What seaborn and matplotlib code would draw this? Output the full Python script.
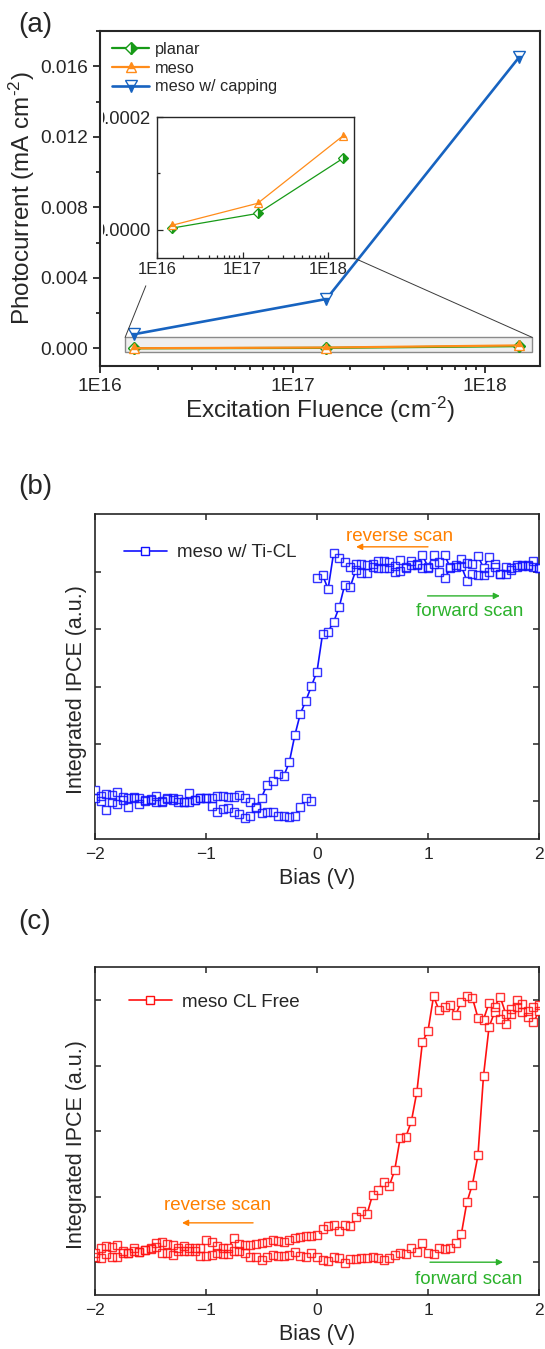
import numpy as np
import pandas as pd
import matplotlib
matplotlib.use("Agg")
import matplotlib.pyplot as plt
import seaborn as sns
from matplotlib.lines import Line2D
from matplotlib.patches import Rectangle
from matplotlib.transforms import Bbox
from matplotlib.ticker import (FixedLocator, FuncFormatter, NullFormatter,
                               LogLocator, MultipleLocator)

sns.set_style("ticks")
plt.rcParams["font.family"] = ["Liberation Sans", "DejaVu Sans"]
plt.rcParams["mathtext.fontset"] = "custom"
plt.rcParams["mathtext.rm"] = "Liberation Sans"
plt.rcParams["mathtext.it"] = "Liberation Sans:italic"
plt.rcParams["mathtext.bf"] = "Liberation Sans:bold"

# ---------------- (a) photocurrent vs excitation fluence ----------------
fluence = [1.5e16, 1.5e17, 1.5e18]
planar = [3e-6, 2.9e-5, 1.27e-4]
meso = [8e-6, 4.7e-5, 1.67e-4]
meso_capping = [0.0008, 0.0028, 0.0165]
fluence_ticks = [1e16, 1e17, 1e18]

# ---------------- (b), (c) bias sweeps ----------------
bias = np.round(np.linspace(-2.0, 2.0, 81), 2)

ti_forward = [0.048, 0.023, 0.029, 0.026, 0.041, 0.019, 0.015, 0.015, 0.012, 0.004,
              0.009, 0.023, 0.000, 0.015, 0.012, 0.009, -0.003, 0.034, 0.004, 0.012,
              0.012, 0.015, 0.023, 0.022, 0.019, 0.019, 0.026, 0.012, -0.006, -0.025,
              0.015, 0.071, 0.087, 0.118, 0.109, 0.169, 0.287, 0.382, 0.439, 0.503,
              0.566, 0.730, 0.741, 0.783, 0.848, 0.946, 0.937, 1.010, 0.996, 0.996,
              1.022, 1.017, 1.017, 1.017, 1.003, 1.007, 1.017, 1.032, 1.032, 1.017,
              1.017, 1.036, 1.003, 0.974, 1.017, 1.025, 1.028, 0.964, 0.993, 0.988,
              0.988, 1.003, 1.025, 0.993, 0.993, 1.010, 1.022, 1.028, 1.032, 1.022,
              1.017]
ti_reverse = [0.015, 0.000, -0.039, -0.006, -0.015, 0.004, -0.025, 0.019, -0.015, 0.000,
              0.004, -0.003, -0.006, 0.009, 0.004, -0.003, -0.006, -0.003, 0.004, 0.015,
              0.015, -0.020, -0.047, -0.035, -0.029, -0.047, -0.058, -0.073, -0.064, -0.032,
              -0.054, -0.050, -0.050, -0.064, -0.064, -0.069, -0.064, -0.025, 0.015, 0.000,
              0.974, 0.988, 0.927, 1.086, 1.061, 1.045, 1.022, 1.036, 1.036, 1.032,
              1.036, 1.051, 1.051, 1.047, 1.028, 1.054, 1.022, 1.051, 1.036, 1.076,
              1.022, 1.074, 1.047, 1.074, 1.022, 1.032, 1.058, 1.042, 1.036, 1.071,
              1.020, 1.066, 1.036, 0.993, 1.025, 1.017, 1.032, 1.032, 1.028, 1.051,
              1.017]
# the reverse trace of the Ti-CL device has a gap just below 0 V
ti_reverse_gap = -0.025

free_forward = [0.020, 0.014, 0.031, 0.018, 0.018, 0.033, 0.036, 0.043, 0.039, 0.046,
                0.048, 0.059, 0.036, 0.033, 0.027, 0.043, 0.043, 0.043, 0.043, 0.023,
                0.023, 0.027, 0.033, 0.031, 0.031, 0.043, 0.043, 0.033, 0.018, 0.020,
                0.008, 0.020, 0.027, 0.023, 0.023, 0.027, 0.039, 0.023, 0.020, 0.036,
                0.020, 0.008, 0.004, 0.020, 0.014, -0.005, 0.011, 0.011, 0.014, 0.017,
                0.020, 0.017, 0.008, 0.017, 0.027, 0.033, 0.029, 0.052, 0.039, 0.071,
                0.033, 0.029, 0.052, 0.050, 0.055, 0.071, 0.106, 0.228, 0.296, 0.407,
                0.711, 0.898, 0.955, 0.930, 0.908, 0.949, 0.975, 0.955, 0.936, 0.915,
                0.959]
free_reverse = [0.036, 0.052, 0.061, 0.056, 0.065, 0.043, 0.036, 0.052, 0.039, 0.046,
                0.052, 0.074, 0.078, 0.069, 0.065, 0.052, 0.061, 0.052, 0.052, 0.052,
                0.084, 0.078, 0.061, 0.052, 0.052, 0.090, 0.069, 0.065, 0.065, 0.069,
                0.071, 0.078, 0.084, 0.081, 0.078, 0.084, 0.090, 0.097, 0.099, 0.099,
                0.103, 0.126, 0.139, 0.141, 0.120, 0.141, 0.139, 0.173, 0.195, 0.182,
                0.256, 0.277, 0.307, 0.289, 0.351, 0.475, 0.478, 0.537, 0.651, 0.841,
                0.883, 1.015, 0.962, 0.975, 0.981, 0.945, 0.994, 1.017, 1.009, 0.933,
                0.926, 0.990, 0.975, 1.013, 0.949, 0.968, 1.000, 0.987, 0.958, 0.975,
                0.981]
ipce_ticks = [0.0, 0.25, 0.5, 0.75, 1.0]

GREEN = "#179a17"
ORANGE = "#ff8c1a"
CAP_BLUE = "#1763c0"
BLUE = "#1010ff"
RED = "#ff1010"
TXT_ORANGE = "#ff8000"
TXT_GREEN = "#2cb22c"

W, H = 545, 1349
fig = plt.figure(figsize=(W / 100, H / 100), dpi=100)


def box(left, top, right, bottom):
    return [left / W, 1 - bottom / H, (right - left) / W, (bottom - top) / H]


# =============================== (a) ===============================
ax_a = fig.add_axes(box(100, 31, 540, 366))
ax_a.set_xscale("log")

df_a = pd.DataFrame({"fluence": fluence * 3,
                     "current": planar + meso + meso_capping,
                     "sample": ["planar"] * 3 + ["meso"] * 3 + ["meso w/ capping"] * 3})
styles = {
    "planar": dict(color=GREEN, marker="D", fillstyle="right", ms=6, lw=1.6),
    "meso": dict(color=ORANGE, marker="^", fillstyle="top", ms=7, lw=1.6),
    "meso w/ capping": dict(color=CAP_BLUE, marker="v", fillstyle="bottom", ms=8, lw=1.9),
}
for name, st in styles.items():
    sub = df_a[df_a["sample"] == name]
    sns.lineplot(data=sub, x="fluence", y="current", estimator=None, sort=False,
                 ax=ax_a, label=name, color=st["color"], lw=st["lw"],
                 marker=st["marker"], ms=st["ms"], fillstyle=st["fillstyle"],
                 markerfacecoloralt="white", mec=st["color"], mew=1.0, zorder=3)

ax_a.set_xlim(1e16, 1.93e18)
ax_a.set_ylim(-0.001, 0.018)
ax_a.xaxis.set_major_locator(FixedLocator(fluence_ticks))
ax_a.xaxis.set_major_formatter(FuncFormatter(lambda v, p: f"1E{int(round(np.log10(v)))}"))
ax_a.xaxis.set_minor_locator(LogLocator(base=10, subs=np.arange(2, 10)))
ax_a.xaxis.set_minor_formatter(NullFormatter())
ax_a.yaxis.set_major_locator(MultipleLocator(0.004))
ax_a.yaxis.set_minor_locator(MultipleLocator(0.002))
ax_a.yaxis.set_major_formatter(FuncFormatter(lambda v, p: f"{v:.3f}"))
ax_a.tick_params(which="both", direction="out", top=False, right=False,
                 labelsize=13.8, width=1.3)
ax_a.tick_params(which="major", length=5)
ax_a.tick_params(which="minor", length=3)
for s in ax_a.spines.values():
    s.set_linewidth(1.5)
ax_a.set_xlabel(r"Excitation Fluence (cm$^{\text{-}2}$)", fontsize=17.5, labelpad=0)
ax_a.set_ylabel(r"Photocurrent (mA cm$^{\text{-}2}$)", fontsize=17.5)
ax_a.yaxis.set_label_coords(-0.143, 0.5)

# highlighted low-current strip shown enlarged in the inset
ZOOM_X = (1.35e16, 1.76e18)
ZOOM_Y = (-0.00023, 0.00062)
ax_a.add_patch(Rectangle((ZOOM_X[0], ZOOM_Y[0]), ZOOM_X[1] - ZOOM_X[0], ZOOM_Y[1] - ZOOM_Y[0],
                         facecolor="#efefef", edgecolor="#8a8a8a", lw=1.0, zorder=1))

leg = ax_a.legend(loc="upper left", bbox_to_anchor=(0.027, 0.967), frameon=False,
                  fontsize=11.7, handlelength=2.3, handletextpad=0.35,
                  labelspacing=0.22, borderpad=0, borderaxespad=0)

# inset
ax_in = fig.add_axes(box(157, 117, 354, 258))
ax_in.set_xscale("log")
for name in ["planar", "meso"]:
    st = styles[name]
    sub = df_a[df_a["sample"] == name]
    sns.lineplot(data=sub, x="fluence", y="current", estimator=None, sort=False,
                 ax=ax_in, color=st["color"], lw=0.9, marker=st["marker"],
                 ms=st["ms"] - 1, fillstyle=st["fillstyle"], markerfacecoloralt="white",
                 mec=st["color"], mew=0.9, legend=False)
ax_in.set_xlim(1e16, 2e18)
ax_in.set_ylim(-0.00005, 0.0002)
ax_in.xaxis.set_major_locator(FixedLocator(fluence_ticks))
ax_in.xaxis.set_major_formatter(FuncFormatter(lambda v, p: f"1E{int(round(np.log10(v)))}"))
ax_in.xaxis.set_minor_locator(LogLocator(base=10, subs=np.arange(2, 10)))
ax_in.xaxis.set_minor_formatter(NullFormatter())
ax_in.yaxis.set_major_locator(FixedLocator([0.0, 0.0002]))
ax_in.yaxis.set_minor_locator(FixedLocator([0.0001]))
ax_in.yaxis.set_major_formatter(FuncFormatter(lambda v, p: f"{v:.4f}"))
ax_in.tick_params(which="both", direction="in", width=0.9, pad=3)
ax_in.tick_params(axis="x", labelsize=12)
ax_in.tick_params(axis="y", labelsize=13.2, pad=5)
ax_in.tick_params(which="major", length=4)
ax_in.tick_params(which="minor", length=2.5)
ax_in.set_xlabel("")
ax_in.set_ylabel("")
for s in ax_in.spines.values():
    s.set_linewidth(1.0)

# connector lines from the strip to the inset
to_fig = fig.transFigure.inverted()
p_tl = np.array(ax_a.transData.transform((ZOOM_X[0], ZOOM_Y[1])))
p_tr = np.array(ax_a.transData.transform((ZOOM_X[1], ZOOM_Y[1])))
q_bl = np.array(ax_in.transAxes.transform((0, 0)))
q_br = np.array(ax_in.transAxes.transform((1, 0)))
end_l = p_tl + 0.65 * (q_bl - p_tl)
for a, b in [(p_tl, end_l), (p_tr, q_br)]:
    fa, fb = to_fig.transform(a), to_fig.transform(b)
    fig.add_artist(Line2D([fa[0], fb[0]], [fa[1], fb[1]], transform=fig.transFigure,
                          color="#3a3a3a", lw=0.7))

fig.text(18 / W, 1 - 25 / H, "(a)", fontsize=20, ha="left", va="center")


# ======================= (b) and (c) bias sweeps =======================
def sweep_frame(fwd, rev, gap=None):
    rows = []
    for v, y in zip(bias, fwd):
        rows.append((v, y, "forward"))
    for v, y in zip(bias, rev):
        seg = "reverse"
        if gap is not None:
            seg = "reverse_lo" if v < gap else "reverse_hi"
        rows.append((v, y, seg))
    return pd.DataFrame(rows, columns=["bias", "ipce", "sweep"])


def sweep_panel(ax, df, color, ylim):
    sns.lineplot(data=df, x="bias", y="ipce", units="sweep", estimator=None, sort=False,
                 color=color, lw=1.2, ax=ax, legend=False, zorder=2)
    sns.lineplot(data=df, x="bias", y="ipce", units="sweep", estimator=None, sort=False,
                 color=color, linestyle="none", marker="s", ms=5.6, mfc="white",
                 mec="none", mew=0, ax=ax, legend=False, zorder=3)
    sns.lineplot(data=df, x="bias", y="ipce", units="sweep", estimator=None, sort=False,
                 color=color, linestyle="none", marker="s", ms=5.6, mfc="none",
                 mec=color, mew=1.0, alpha=0.85, ax=ax, legend=False, zorder=4)
    ax.set_xlim(-2, 2)
    ax.set_ylim(*ylim)
    ax.set_xticks([-2, -1, 0, 1, 2])
    ax.set_yticks(ipce_ticks)
    ax.set_yticklabels([])
    ax.tick_params(which="both", direction="in", top=True, right=True, length=4.5,
                   width=1.1, labelsize=12.5, pad=6)
    for s in ax.spines.values():
        s.set_linewidth(1.2)
    ax.set_xlabel("Bias (V)", fontsize=15.5, labelpad=4)
    ax.set_ylabel("Integrated IPCE (a.u.)", fontsize=15.5)
    ax.yaxis.set_label_coords(-0.017, 0.46)
    handle = Line2D([], [], color=color, lw=1.2, marker="s", ms=5.6, mfc="white",
                    mec=color, mew=1.0)
    return handle


def arrow(ax, start, end, color):
    ax.annotate("", xy=end, xytext=start, xycoords="axes fraction",
                textcoords="axes fraction",
                arrowprops=dict(arrowstyle="-|>", color=color, lw=1.0,
                                mutation_scale=9, shrinkA=0, shrinkB=0))


# (b)
ax_b = fig.add_axes(box(95, 514, 539, 839))
df_b = sweep_frame(ti_forward, ti_reverse, gap=ti_reverse_gap)
h_b = sweep_panel(ax_b, df_b, BLUE, (-0.166, 1.255))
ax_b.legend([h_b], ["meso w/ Ti-CL"], loc="upper left", bbox_to_anchor=(0.065, 0.907),
            frameon=False, fontsize=13.5, handlelength=2.3, handletextpad=0.55,
            borderpad=0, borderaxespad=0)
ax_b.text(0.687, 0.932, "reverse scan", transform=ax_b.transAxes, ha="center",
          va="center", color=TXT_ORANGE, fontsize=13.5)
arrow(ax_b, (0.750, 0.899), (0.588, 0.899), TXT_ORANGE)
ax_b.text(0.845, 0.70, "forward scan", transform=ax_b.transAxes, ha="center",
          va="center", color=TXT_GREEN, fontsize=13.5)
arrow(ax_b, (0.749, 0.748), (0.912, 0.748), TXT_GREEN)
fig.text(18 / W, 1 - 487 / H, "(b)", fontsize=20, ha="left", va="center")

# (c)
ax_c = fig.add_axes(box(95, 967, 539, 1295))
df_c = sweep_frame(free_forward, free_reverse)
h_c = sweep_panel(ax_c, df_c, RED, (-0.126, 1.127))
ax_c.legend([h_c], ["meso CL Free"], loc="upper left", bbox_to_anchor=(0.076, 0.918),
            frameon=False, fontsize=13.5, handlelength=2.3, handletextpad=0.55,
            borderpad=0, borderaxespad=0)
ax_c.text(0.277, 0.274, "reverse scan", transform=ax_c.transAxes, ha="center",
          va="center", color=TXT_ORANGE, fontsize=13.5)
arrow(ax_c, (0.356, 0.22), (0.196, 0.22), TXT_ORANGE)
ax_c.text(0.841, 0.047, "forward scan", transform=ax_c.transAxes, ha="center",
          va="center", color=TXT_GREEN, fontsize=13.5)
arrow(ax_c, (0.7545, 0.10), (0.919, 0.10), TXT_GREEN)
fig.text(18 / W, 1 - 922 / H, "(c)", fontsize=20, ha="left", va="center")

# inset y tick labels are cut off just inside the left frame of the main axes
fig.canvas.draw()
mb = ax_a.bbox
clip = Bbox.from_extents(mb.x0 + 3, mb.y0, mb.x1, mb.y1)
for t in ax_in.get_yticklabels():
    t.set_clip_on(True)
    t.set_clip_box(clip)

fig.savefig("out.png", dpi=100)
